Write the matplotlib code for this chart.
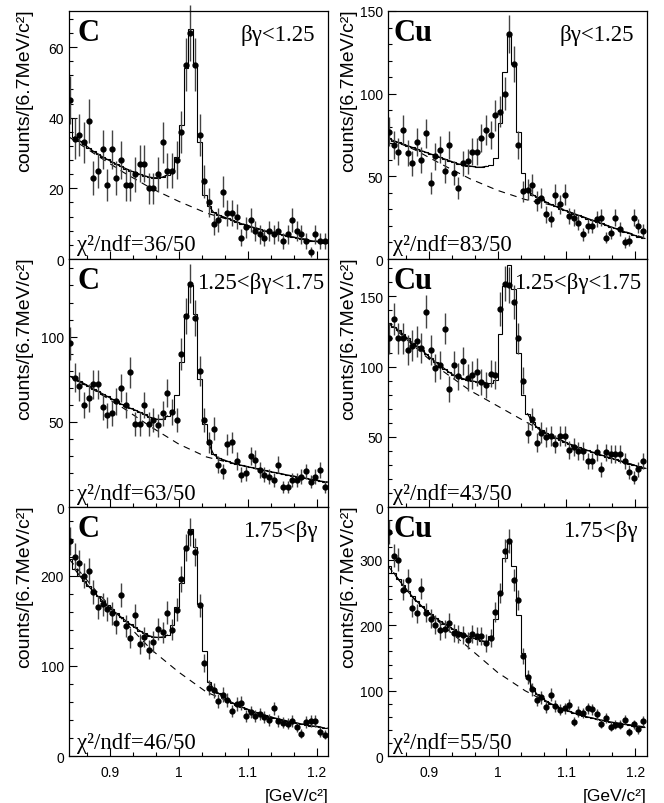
import matplotlib.pyplot as plt
import numpy as np
from matplotlib.ticker import MultipleLocator, AutoMinorLocator, FuncFormatter

plt.rcParams['font.family'] = ['Liberation Sans', 'DejaVu Sans']

# 56 bins of 6.7 MeV/c^2
bin_width = 0.0067
first_edge = 0.8392
n_bins = 56
edges = first_edge + bin_width * np.arange(n_bins + 1)
centers = edges[:-1] + bin_width / 2

# background (dashed) sampled at these masses
bkg_mass = [0.8413, 0.88, 0.92, 0.96, 1.0, 1.04, 1.08, 1.12, 1.16, 1.2165]

## C, bg < 1.25
c_low_counts = [45, 34, 35, 33, 39, 23, 25, 31, 21, 31, 23, 28, 21, 21, 24, 27, 27, 20, 20, 24,
                33, 25, 25, 28, 36, 55, 64, 55, 35, 22, 16, 10, 11, 19, 13, 13, 12, 6, 9, 11,
                8, 7, 6, 8, 7, 8, 5, 7, 11, 8, 7, 5, 2, 7, 5, 5]
c_low_fit = [40, 34.5, 33.5, 32.5, 31.5, 30.5, 29.7, 28.9, 28.2, 27.5, 26.8, 26.2, 25.6, 25.0,
             24.5, 24.0, 23.6, 23.2, 23.0, 23.0, 23.2, 23.8, 25, 29, 38, 54, 65, 55, 33, 18,
             15, 13.2, 12.5, 12, 11.5, 11, 10.5, 10, 9.6, 9.2, 8.8, 8.4, 8.0, 7.7, 7.4, 7.1,
             6.8, 6.5, 6.2, 6.0, 5.7, 5.5, 5.2, 5.0, 4.8, 4.6]
c_low_bkg = [34.5, 29.5, 24.5, 20, 16.3, 13, 10.7, 8.3, 6.4, 4.5]

## Cu, bg < 1.25
cu_low_counts = [77, 69, 65, 78, 64, 58, 71, 60, 76, 46, 62, 66, 53, 69, 52, 43, 58, 59, 65, 65,
                 73, 78, 75, 87, 89, 100, 136, 118, 69, 41, 42, 45, 35, 37, 27, 24, 39, 33, 39, 26,
                 25, 22, 15, 20, 20, 24, 25, 13, 16, 25, 18, 10, 11, 25, 20, 17]
cu_low_fit = [73, 71.5, 70.5, 69.5, 68.5, 67.5, 66.5, 65.5, 64.5, 63.5, 62.5, 61.5, 60.5, 59.5,
              58.5, 57.5, 57, 56.5, 56, 55.5, 55.5, 56, 57, 61, 82, 113, 136, 118, 77, 52,
              42, 39, 37.5, 36, 34.5, 33, 32, 30.5, 29.5, 28.5, 27.5, 26.5, 25.5, 24.5, 23.5,
              22.5, 21.5, 20.5, 19.5, 18.5, 17.5, 16.5, 15.5, 14.5, 13.5, 12.8]
cu_low_bkg = [73, 66, 57, 48.5, 41.5, 36, 32.5, 26, 20, 12.3]

## C, 1.25 < bg < 1.75
c_mid_counts = [96, 76, 71, 60, 64, 72, 72, 59, 54, 55, 62, 70, 60, 79, 49, 49, 60, 49, 51, 48,
                55, 67, 56, 51, 90, 112, 131, 111, 80, 51, 38, 46, 25, 21, 37, 38, 27, 19, 20, 30,
                28, 22, 19, 18, 16, 25, 12, 12, 16, 16, 18, 21, 15, 18, 22, 12]
c_mid_fit = [77, 75.5, 74, 72.5, 71, 69.5, 68, 66.5, 65, 63.5, 62, 60.5, 59.5, 58, 57, 55.8,
             54.5, 53, 52, 51.5, 51.5, 53.5, 57, 66, 85, 113, 130, 113, 75, 49, 37, 31, 29, 28,
             27, 26, 25.3, 24.6, 24, 23.4, 22.8, 22.2, 21.6, 21, 20.5, 20, 19.4, 18.9, 18.4,
             17.9, 17.4, 16.9, 16.4, 15.9, 15.4, 15]
c_mid_bkg = [77, 68, 58, 47, 37, 29.5, 25.5, 22, 18.6, 14.8]

## Cu, 1.25 < bg < 1.75
cu_mid_counts = [120, 134, 120, 120, 112, 115, 118, 113, 139, 112, 99, 101, 127, 84, 101, 93,
                 104, 92, 94, 96, 89, 87, 95, 94, 141, 159, 158, 146, 120, 90, 53, 63, 46, 53,
                 50, 51, 45, 51, 51, 41, 43, 40, 40, 33, 33, 39, 27, 39, 38, 38, 38, 33, 25, 21,
                 27, 33]
cu_mid_fit = [131, 128.5, 126, 123, 120, 117, 114.5, 112, 109, 106, 103.5, 101, 98.5, 96, 94,
              92.5, 91.5, 90.5, 89.8, 89.2, 88.8, 88.5, 88.5, 90.5, 123.5, 157, 172, 155, 110,
              80, 66.5, 60.5, 57, 55, 53, 51, 49.5, 48, 46.5, 45, 43.8, 42.6, 41.5, 40.4, 39.3,
              38.2, 37.1, 36, 35, 34, 33, 32, 31, 30, 29, 28]
cu_mid_bkg = [131, 114, 97, 83, 72, 61, 50, 42, 35.5, 27.5]

## C, 1.75 < bg
c_high_counts = [238, 221, 214, 200, 205, 182, 165, 168, 163, 158, 148, 178, 144, 131, 156, 124,
                 132, 118, 127, 141, 137, 159, 140, 162, 196, 231, 248, 226, 167, 103, 76, 73,
                 61, 68, 62, 50, 58, 59, 45, 49, 45, 47, 44, 40, 53, 39, 37, 36, 39, 32, 25, 38,
                 39, 39, 27, 24]
c_high_fit = [218, 207, 200, 194, 188, 182.5, 177, 172, 167, 162.5, 158, 154, 150, 146, 142.5,
              139, 136, 133.5, 132, 131.5, 132, 134, 145, 165, 192, 232, 252, 232, 168, 117, 82,
              75, 70, 66, 62.5, 59.5, 57, 54.5, 52.5, 50.5, 48.7, 47, 45.5, 44, 42.7, 41.4,
              40.2, 39, 37.9, 36.8, 35.8, 34.8, 33.9, 33, 32.2, 31.4]
c_high_bkg = [218, 183, 150, 118, 93, 71, 58, 46, 38.2, 31]

## Cu, 1.75 < bg
cu_high_counts = [342, 306, 300, 254, 269, 227, 218, 256, 219, 210, 201, 192, 194, 204, 188, 187,
                  185, 177, 186, 184, 184, 173, 181, 220, 249, 314, 329, 269, 238, 153, 121, 102,
                  86, 90, 75, 94, 77, 71, 73, 79, 53, 68, 66, 73, 72, 64, 50, 58, 45, 48, 48, 56,
                  37, 49, 41, 54]
cu_high_fit = [290, 280, 270, 261, 252, 244, 236.5, 229.5, 223, 217, 211.5, 206.5, 202, 197.5,
               193.5, 190, 186.5, 183.5, 181, 178.5, 176.5, 175, 184, 209, 250, 302, 330, 291,
               216, 158, 123, 104, 95, 89, 84.5, 80.5, 77, 74, 71, 68.5, 66, 64, 62, 60, 58.3,
               56.7, 55.2, 53.8, 52.4, 51.1, 49.9, 48.7, 47.6, 46.5, 45.5, 44.5]
cu_high_bkg = [290, 238, 200, 164, 128, 100, 78, 62.5, 52.8, 44.5]

targets = ['C', 'Cu', 'C', 'Cu', 'C', 'Cu']
bg_ranges = ['βγ<1.25', 'βγ<1.25', '1.25<βγ<1.75', '1.25<βγ<1.75', '1.75<βγ', '1.75<βγ']
chi2 = ['36/50', '83/50', '63/50', '43/50', '46/50', '55/50']
counts_all = [c_low_counts, cu_low_counts, c_mid_counts, cu_mid_counts, c_high_counts, cu_high_counts]
fit_all = [c_low_fit, cu_low_fit, c_mid_fit, cu_mid_fit, c_high_fit, cu_high_fit]
bkg_all = [c_low_bkg, cu_low_bkg, c_mid_bkg, cu_mid_bkg, c_high_bkg, cu_high_bkg]
y_max = [70.2, 150, 145.5, 176.5, 275.5, 380]
y_major = [20, 50, 50, 50, 100, 100]

fig = plt.figure(figsize=(6.64, 8.04), dpi=100)

col_left = [0.1044, 0.5848]
col_width = [0.3901, 0.3892]
row_bottom = [0.6766, 0.3678, 0.0581]
row_height = [0.3085, 0.3088, 0.3097]
range_x = [[0.949, 0.951], [0.982, 0.977], [0.960, 0.966]]
label_x = [-0.139, -0.12]

serif = ['Liberation Serif', 'DejaVu Serif']

for i in range(6):
    row, col = i // 2, i % 2
    ax = fig.add_axes([col_left[col], row_bottom[row], col_width[col], row_height[row]])
    counts = np.array(counts_all[i], dtype=float)

    ax.stairs(fit_all[i], edges, baseline=None, color='black', lw=0.8)
    ax.plot(centers[1:22], fit_all[i][1:22], color='black', lw=0.9)
    ax.plot(centers[30:], fit_all[i][30:], color='black', lw=0.9)
    ax.plot(bkg_mass, bkg_all[i], color='black', lw=0.8, linestyle=(0, (6, 5)))
    eb = ax.errorbar(centers, counts, yerr=np.sqrt(counts), fmt='o', ms=3.5,
                     color='black', ecolor='#444444', elinewidth=1.0, capsize=0)
    for part in eb.lines[2]:
        part.set_clip_on(False)

    ax.set_xlim(0.8413, 1.2165)
    ax.set_ylim(0, y_max[i])
    ax.xaxis.set_major_locator(MultipleLocator(0.1))
    ax.xaxis.set_minor_locator(AutoMinorLocator(3))
    ax.xaxis.set_major_formatter(FuncFormatter(lambda v, p: '%g' % round(v, 2)))
    ax.yaxis.set_major_locator(MultipleLocator(y_major[i]))
    ax.yaxis.set_minor_locator(AutoMinorLocator(5))
    ax.tick_params(which='both', direction='in', top=False, right=False, labelsize=10)
    ax.tick_params(which='major', length=5.5, width=0.8, pad=4)
    ax.tick_params(which='minor', length=3, width=0.8)
    ax.tick_params(axis='x', which='major', pad=6)
    for s in ax.spines.values():
        s.set_linewidth(0.9)
    if row < 2:
        ax.tick_params(labelbottom=False)
    else:
        ax.set_xlabel('[GeV/c²]', fontsize=12.5, loc='right', labelpad=7)

    ax.set_ylabel('counts/[6.7MeV/c²]', fontsize=14, loc='top')
    ax.yaxis.set_label_coords(label_x[col], 1.01)

    ax.text(0.03 if col == 0 else 0.02, 0.885, targets[i], transform=ax.transAxes,
            family=serif, fontweight='bold', fontsize=22, va='baseline')
    ax.text(range_x[row][col], 0.885, bg_ranges[i], transform=ax.transAxes,
            family=serif, fontsize=16.5, ha='right', va='baseline')
    ax.text(0.03 if col == 0 else 0.02, 0.035, 'χ²/ndf=' + chi2[i], transform=ax.transAxes,
            family=serif, fontsize=16.5, va='baseline')

plt.savefig('out.png', dpi=100)
